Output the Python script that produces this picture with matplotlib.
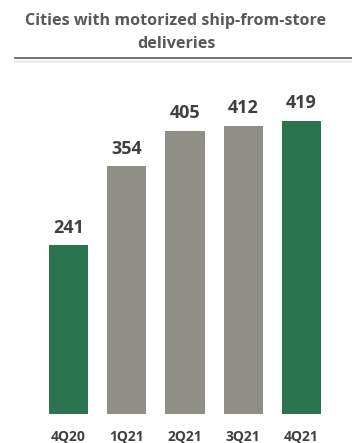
import numpy as np
import matplotlib
matplotlib.use("Agg")
import matplotlib.pyplot as plt
from matplotlib.lines import Line2D

quarters = ["4Q20", "1Q21", "2Q21", "3Q21", "4Q21"]
cities = [241, 354, 405, 412, 419]
highlight = [True, False, False, False, True]

green = "#2a7550"
grey = "#8f8f87"
text_col = "#404040"

plt.rcParams['font.family'] = ['Open Sans', 'DejaVu Sans']

W, H = 352, 443
fig = plt.figure(figsize=(W / 100, H / 100), dpi=100)

# axes placed in pixel terms: bars sit on y=414 px from top
left, right = 39.4, 330.6
bottom_px, top_px = 414, 114
ax = fig.add_axes([left / W, (H - bottom_px) / H, (right - left) / W, (bottom_px - top_px) / H])

x = np.arange(len(quarters))
colors = [green if h else grey for h in highlight]
bars = ax.bar(x, cities, width=0.67, color=colors)

ax.set_xlim(-0.5, len(quarters) - 0.5)
ax.set_ylim(0, (bottom_px - top_px) / 0.7)

for xi, v in zip(x, cities):
    ax.annotate(str(v), (xi, v), xytext=(0, 6), textcoords="offset points",
                ha="center", va="bottom", fontsize=13, fontweight="bold",
                color=text_col, clip_on=False)

ax.set_xticks(x)
ax.set_xticklabels(quarters, fontsize=10, fontweight="bold", color=text_col)
ax.tick_params(axis="x", length=0, pad=11.5)
ax.set_yticks([])
for s in ax.spines.values():
    s.set_visible(False)

fig.text(0.5, 1 - 21 / H, "Cities with motorized ship-from-store", ha="center", va="center",
         fontsize=11.6, fontweight="bold", color="#595959")
fig.text(0.5, 1 - 44 / H, "deliveries", ha="center", va="center",
         fontsize=11.6, fontweight="bold", color="#595959")

# rule under the title
fig.add_artist(Line2D([15 / W, 1], [1 - 58 / H, 1 - 58 / H], color="#5a5a5a", lw=1.2))
fig.add_artist(Line2D([15 / W, 1], [1 - 60.5 / H, 1 - 60.5 / H], color="#ececec", lw=2))

fig.savefig("out.png", dpi=100)
